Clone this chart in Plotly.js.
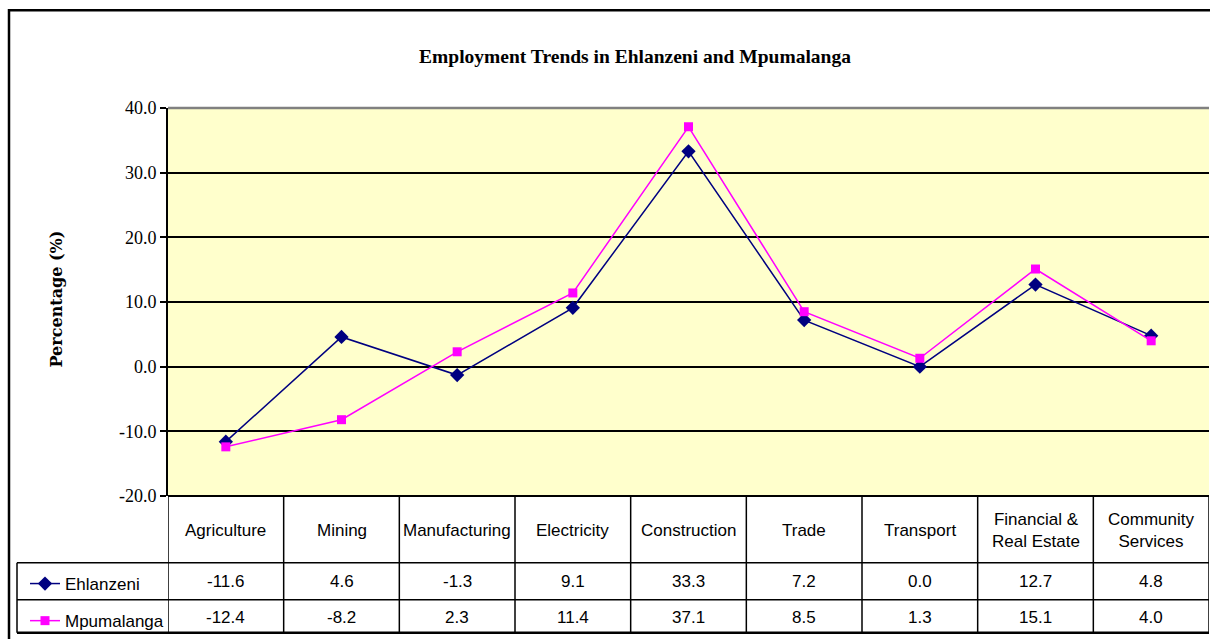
<!DOCTYPE html>
<html>
<head>
<meta charset="utf-8">
<script src="https://cdn.plot.ly/plotly-3.0.1.min.js"></script>
<style>html,body{margin:0;padding:0;background:#fff;}#chart{width:1210px;height:639px;}</style>
</head>
<body>
<div id="chart"></div>
<script>
// ---- data ----
const categories = ["Agriculture","Mining","Manufacturing","Electricity","Construction","Trade","Transport","Financial &<br>Real Estate","Community<br>Services"];
const seriesNames = ["Ehlanzeni","Mpumalanga"];
const ehlanzeni = [-11.6, 4.6, -1.3, 9.1, 33.3, 7.2, 0.0, 12.7, 4.8];
const mpumalanga = [-12.4, -8.2, 2.3, 11.4, 37.1, 8.5, 1.3, 15.1, 4.0];
const yTicks = [-20, -10, 0, 10, 20, 30, 40];
const yTickText = yTicks.map(v => v.toFixed(1));

// ---- layout helpers (pixel geometry of the frame) ----
const W = 1210, H = 639;
const plotL = 168, plotR = 1209, plotT = 108, plotB = 497;
const pw = plotR - plotL, ph = plotB - plotT;
const px = x => (x - plotL) / pw;      // pixel x -> paper x
const py = y => (plotB - y) / ph;      // pixel y -> paper y

const rowCatBottom = 564, rowEBottom = 601, rowMBottom = 634, legendLeft = 17;
const tableFont = {family: "Liberation Sans Narrow, Arial Narrow, sans-serif", size: 17, color: "#000"};

const traces = [
  {x: categories, y: ehlanzeni, name: seriesNames[0], type: "scatter", mode: "lines+markers",
   line: {color: "#000080", width: 1.5}, marker: {symbol: "diamond", size: 11, color: "#000080"},
   legendgroup: "a"},
  {x: categories, y: mpumalanga, name: seriesNames[1], type: "scatter", mode: "lines+markers",
   line: {color: "#FF00FF", width: 1.5}, marker: {symbol: "square", size: 9, color: "#FF00FF"},
   legendgroup: "b"}
];

const shapes = [];
const annotations = [];
const lineStyle = {color: "#000", width: 1.5};
// outer frame
shapes.push({type: "rect", xref: "paper", yref: "paper", x0: px(9), x1: px(1230), y0: py(10), y1: py(660),
  line: {color: "#000", width: 2.5}, fillcolor: "rgba(0,0,0,0)", layer: "below"});
// vertical column lines of table
for (let i = 0; i <= categories.length; i++) {
  shapes.push({type: "line", xref: "x", yref: "paper", x0: i - 0.5, x1: i - 0.5, y0: py(plotB), y1: py(rowMBottom), line: lineStyle});
}
// legend column left line
shapes.push({type: "line", xref: "paper", yref: "paper", x0: px(legendLeft), x1: px(legendLeft), y0: py(rowCatBottom), y1: py(rowMBottom), line: lineStyle});
// horizontal table lines
[rowCatBottom, rowEBottom, rowMBottom].forEach(yy => {
  shapes.push({type: "line", xref: "paper", yref: "paper", x0: px(legendLeft), x1: 1, y0: py(yy), y1: py(yy), line: {color: "#000", width: yy === rowMBottom ? 2.5 : 1.5}});
});
shapes.push({type: "line", xref: "paper", yref: "paper", x0: 0, x1: 1, y0: 0, y1: 0, line: {color: "#000", width: 2}});

// category labels
categories.forEach((c, i) => {
  annotations.push({x: c, xref: "x", yref: "paper", y: py((plotB + rowCatBottom) / 2 + 1), text: c,
    showarrow: false, font: tableFont, xanchor: "center", yanchor: "middle", align: "center"});
});
// values
[ehlanzeni, mpumalanga].forEach((arr, r) => {
  const yc = r === 0 ? (rowCatBottom + rowEBottom) / 2 : (rowEBottom + rowMBottom) / 2 + 1;
  arr.forEach((v, i) => {
    annotations.push({x: categories[i], xref: "x", yref: "paper", y: py(yc), text: v.toFixed(1),
      showarrow: false, font: tableFont, xanchor: "center", yanchor: "middle"});
  });
});
// y-axis title
annotations.push({xref: "paper", yref: "paper", x: px(57), y: py(300), text: "<b>Percentage (%)</b>", textangle: -90,
  showarrow: false, xanchor: "center", yanchor: "middle",
  font: {family: "DejaVu Serif, serif", size: 16, color: "#000"}});

const layout = {
  width: W, height: H,
  margin: {l: plotL, r: W - plotR, t: plotT, b: H - plotB, pad: 0},
  paper_bgcolor: "#fff", plot_bgcolor: "#FFFFCC",
  title: {text: "<b>Employment Trends in Ehlanzeni and Mpumalanga</b>", xref: "paper", x: px(635), xanchor: "center",
    yref: "container", y: 1 - 56 / H, yanchor: "middle",
    font: {family: "Liberation Serif, serif", size: 19.5, color: "#000"}},
  xaxis: {type: "category", categoryorder: "array", categoryarray: categories, range: [-0.5, categories.length - 0.5],
    showticklabels: false, showgrid: false, zeroline: false, showline: false, ticks: "", fixedrange: true},
  yaxis: {range: [-20, 40], tickmode: "array", tickvals: yTicks, ticktext: yTickText, showgrid: true, gridcolor: "#000", gridwidth: 2,
    zeroline: false, showline: true, linecolor: "#000", linewidth: 2, ticks: "outside", ticklen: 6, tickwidth: 2,
    tickcolor: "#000", tickfont: {family: "Liberation Serif, serif", size: 18, color: "#000"}, fixedrange: true},
  showlegend: true,
  legend: {x: px(legendLeft + 8), xanchor: "left", y: py(rowCatBottom + 2), yanchor: "top", bgcolor: "rgba(0,0,0,0)",
    borderwidth: 0, traceorder: "grouped", tracegroupgap: 12, font: tableFont, itemwidth: 30},
  shapes: shapes,
  annotations: annotations
};
// grey top border of plot area
shapes.push({type: "line", xref: "paper", yref: "paper", x0: 0, x1: 1, y0: 1, y1: 1, line: {color: "#808080", width: 2.5}});

Plotly.newPlot("chart", traces, layout, {displayModeBar: false, staticPlot: true});
</script>
</body>
</html>
